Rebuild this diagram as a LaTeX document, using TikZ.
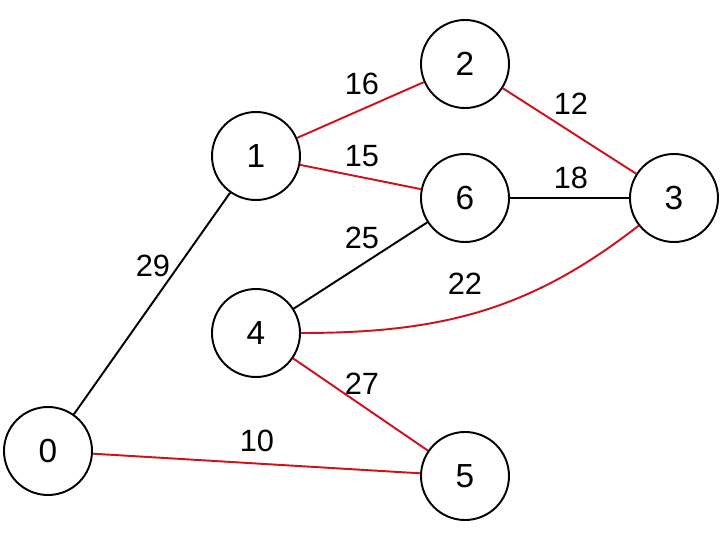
\documentclass[tikz,border=0pt]{standalone}
\usepackage{fontspec}
\setmainfont{Liberation Sans}
\usepackage{tikz}
\usetikzlibrary{positioning}
\definecolor{mstred}{HTML}{D0101B}
\tikzset{
  vert/.style={circle, draw=black, line width=1.1pt, fill=white, minimum size=1.76cm,
               inner sep=0pt, font=\fontsize{19}{22}\selectfont},
  wt/.style={font=\fontsize{17.5}{20}\selectfont, inner sep=1pt},
  edge/.style={line width=1.1pt, black},
  tree/.style={line width=1.1pt, mstred},
}

\begin{document}
\begin{tikzpicture}
    \useasboundingbox (0,0) rectangle (14.48,10.64);

    \node[vert] (v0) at (0.96,1.62) {0};
    \node[vert] (v1) at (5.12,7.52) {1};
    \node[vert] (v2) at (9.30,9.36) {2};
    \node[vert] (v6) at (9.30,6.68) {6};
    \node[vert] (v3) at (13.48,6.68) {3};
    \node[vert] (v4) at (5.12,3.98) {4};
    \node[vert] (v5) at (9.30,1.12) {5};

    \draw[edge] (v0) -- (v1); \draw[edge] (v6) -- (v3); \draw[edge] (v4) -- (v6);
    \draw[tree] (v1) -- (v2); \draw[tree] (v1) -- (v6); \draw[tree] (v2) -- (v3);
    \draw[tree] (v4) -- (v5); \draw[tree] (v0) -- (v5);
    \draw[tree] (v4) to[out=0, in=218] (v3);

    \node[wt] (w01) at (3.06,5.32) {29};
    \node[wt] (w12) at (7.24,8.96) {16};
    \node[wt] (w16) at (7.24,7.52) {15};
    \node[wt] (w23) at (11.42,8.56) {12};
    \node[wt] (w63) at (11.42,7.08) {18};
    \node[wt] (w46) at (7.24,5.88) {25};
    \node[wt] (w43) at (9.30,4.96) {22};
    \node[wt] (w45) at (7.24,2.96) {27};
    \node[wt] (w05) at (5.14,1.82) {10};
\end{tikzpicture}
\end{document}
